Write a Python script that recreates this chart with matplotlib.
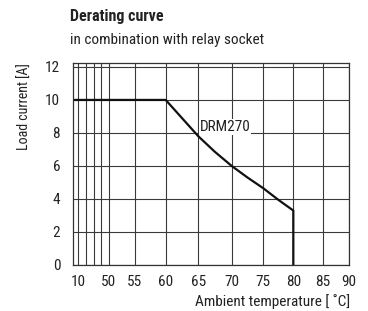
import numpy as np
import matplotlib
matplotlib.use("Agg")
import matplotlib.pyplot as plt

plt.rcParams["font.family"] = ["Roboto Condensed", "DejaVu Sans"]

# derating data (DRM270 with relay socket)
temp = [0, 60, 65, 67.5, 70, 72.5, 75, 77.5, 80, 80]
current = [10, 10, 7.8, 6.85, 6.0, 5.3, 4.65, 3.95, 3.3, 0]

grid_temps = [10, 20, 30, 40, 50, 55, 60, 65, 70, 75, 80, 85, 90]
grid_labels = ["10", "", "", "", "50", "55", "60", "65", "70", "75", "80", "85", "90"]
y_ticks = [0, 2, 4, 6, 8, 10, 12]

# the drawing squeezes 0..50 degC; piecewise scale
knot_t = np.array([0, 10, 20, 30, 40, 50, 55, 60, 65, 70, 75, 80, 85, 90], float)
knot_p = np.array([72.7, 78.3, 85.7, 94, 101.3, 108.7, 135, 165.7, 198.3,
                   231.7, 263.3, 293.3, 322.7, 349], float)


def fwd(x):
    return np.interp(x, knot_t, knot_p)


def inv(p):
    return np.interp(p, knot_p, knot_t)


fs = 11
col = "#222222"

fig = plt.figure(figsize=(3.68, 3.11), dpi=100)
ax = fig.add_axes([72.7 / 368, 1 - 265 / 311, (349 - 72.7) / 368, (265 - 63.3) / 311])
ax.set_xscale("function", functions=(fwd, inv))
ax.set_xlim(0, 90)
ax.set_ylim(0, 12.22)

ax.set_xticks(grid_temps)
ax.set_xticklabels(grid_labels)
ax.set_yticks(y_ticks)
ax.tick_params(length=0, labelsize=fs, colors=col)
ax.tick_params(axis="x", pad=7)
ax.tick_params(axis="y", pad=9)
ax.grid(True, color="#3a3a3a", lw=0.8)
ax.set_axisbelow(True)
for s in ax.spines.values():
    s.set_color("#333333")
    s.set_linewidth(0.9)

ax.plot(temp, current, color="#111111", lw=1.6, solid_joinstyle="miter")
ax.text(65.2, 7.95, "DRM270", fontsize=fs, color=col, ha="left", va="bottom",
        bbox=dict(facecolor="white", edgecolor="none", pad=0.6))

fig.text(70 / 368, 1 - 16 / 311, "Derating curve", fontsize=11.5, fontweight="bold",
         color=col, ha="left", va="center")
fig.text(70 / 368, 1 - 40 / 311, "in combination with relay socket", fontsize=fs,
         color=col, ha="left", va="center")
fig.text(25 / 368, 1 - 63 / 311, "Load current [A]", fontsize=10, color=col,
         rotation=90, ha="center", va="top")
fig.text(350 / 368, 1 - 302 / 311, "Ambient temperature [ \u02daC]", fontsize=fs,
         color=col, ha="right", va="center")

fig.savefig("out.png", dpi=100)
